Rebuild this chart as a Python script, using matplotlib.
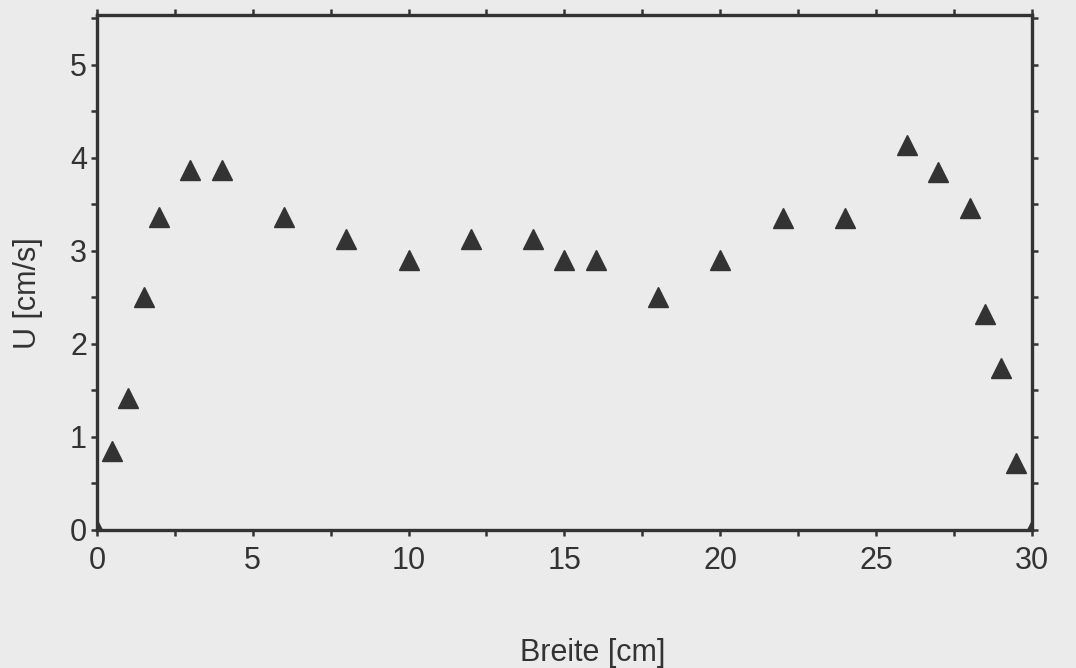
import matplotlib.pyplot as plt
from matplotlib.ticker import MultipleLocator

plt.rcParams['font.family'] = ['Liberation Sans', 'DejaVu Sans']

breite = [0, 0.5, 1, 1.5, 2, 3, 4, 6, 8, 10, 12, 14, 15, 16, 18,
          20, 22, 24, 26, 27, 28, 28.5, 29, 29.5, 30]
u = [0, 0.85, 1.42, 2.5, 3.36, 3.87, 3.87, 3.36, 3.13, 2.9, 3.13, 3.13, 2.9, 2.9, 2.5,
     2.9, 3.35, 3.35, 4.14, 3.85, 3.46, 2.32, 1.74, 0.72, 0]

ink = '#333333'
bg = '#ebebeb'

fig = plt.figure(figsize=(10.76, 6.68), dpi=100, facecolor=bg)
ax = fig.add_axes([0.090, 0.207, 0.869, 0.771], facecolor=bg)

ax.plot(breite, u, linestyle='none', marker='^', ms=14, color=ink, clip_on=True)

ax.set_xlim(0, 30)
ax.set_ylim(0, 5.54)
ax.xaxis.set_major_locator(MultipleLocator(5))
ax.xaxis.set_minor_locator(MultipleLocator(2.5))
ax.yaxis.set_major_locator(MultipleLocator(1))
ax.yaxis.set_minor_locator(MultipleLocator(0.5))

for s in ax.spines.values():
    s.set_color(ink)
    s.set_linewidth(2.4)

ax.tick_params(which='both', direction='out', top=True, right=True, color=ink,
               width=1.8, length=4, labelsize=22, labelcolor=ink)
ax.tick_params(axis='x', pad=8)
ax.tick_params(axis='y', pad=3)

ax.set_xlabel('Breite [cm]', fontsize=22, color=ink)
ax.xaxis.set_label_coords(0.53, -0.21)
ax.set_ylabel('U [cm/s]', fontsize=22, color=ink)
ax.yaxis.set_label_coords(-0.058, 0.46)

fig.savefig('out.png', dpi=100, facecolor=bg)
